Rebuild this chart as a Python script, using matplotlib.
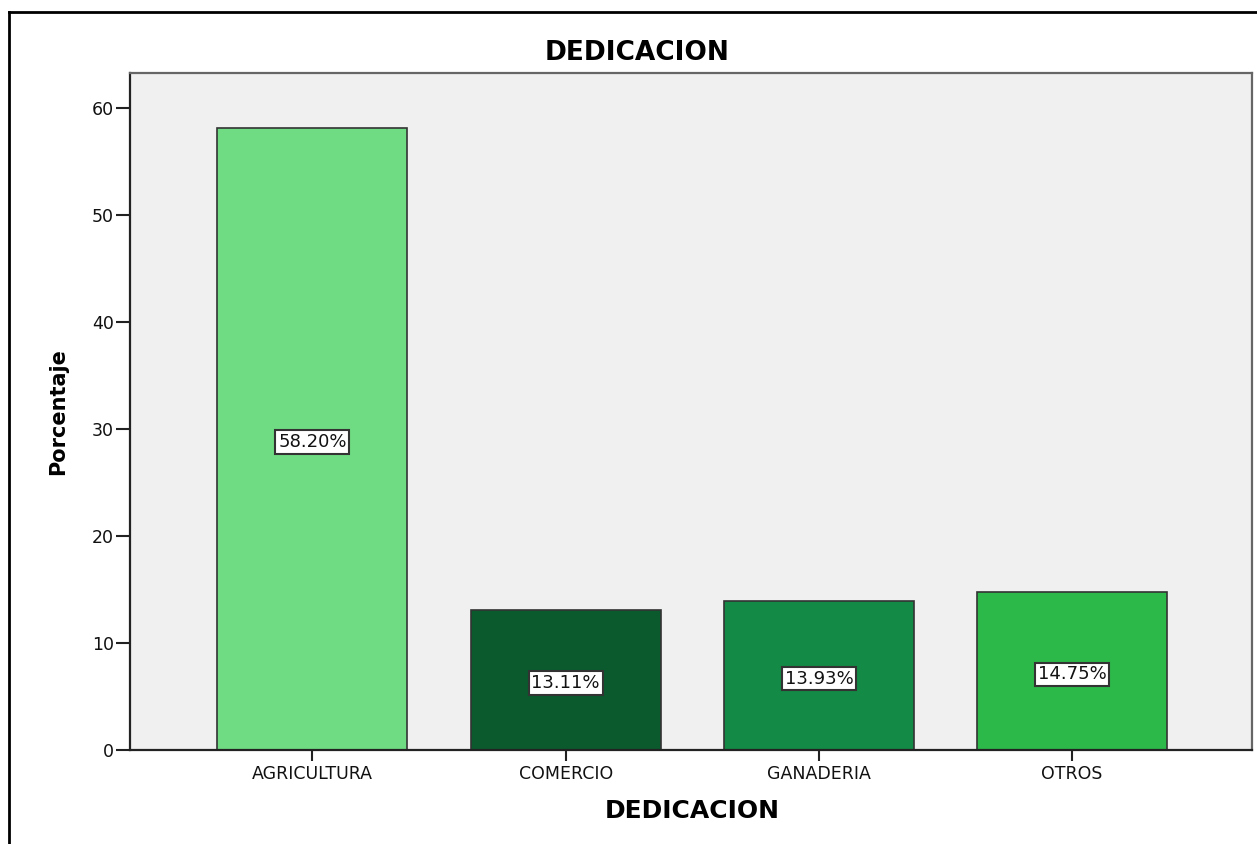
import numpy as np
import matplotlib
matplotlib.use('Agg')
import matplotlib.pyplot as plt
from matplotlib.lines import Line2D

plt.rcParams['font.family'] = ['DejaVu Sans']

# data
categories = ['AGRICULTURA', 'COMERCIO', 'GANADERIA', 'OTROS']
percentages = [58.20, 13.11, 13.93, 14.75]
bar_colors = ['#6FDC83', '#0B5A2E', '#138A45', '#2DB84A']

W, H = 1257, 844
fig = plt.figure(figsize=(W / 100., H / 100.), dpi=100)
ax = fig.add_axes([130. / W, 1 - 750. / H, (1252. - 130.) / W, (750. - 73.) / H])
ax.set_facecolor('#F0F0F0')

x = np.arange(len(categories))
ax.bar(x, percentages, width=0.75, color=bar_colors, edgecolor='#333333', linewidth=1.2, zorder=2)

for xi, v in zip(x, percentages):
    ax.text(xi, v / 2. - 0.3, '%.2f%%' % v, ha='center', va='center', fontsize=13, color='#111111',
            bbox=dict(boxstyle='square,pad=0.15', facecolor='white', edgecolor='#333333', linewidth=1.5),
            zorder=3)

ax.set_xlim(-0.72, 3.71)
ax.set_ylim(0, 63.3)
ax.set_xticks(x)
ax.set_xticklabels(categories, fontsize=12.5, color='#111111')
ax.set_yticks([0, 10, 20, 30, 40, 50, 60])
ax.tick_params(axis='y', length=10, width=1.5, color='#222222', labelsize=12.5, pad=1.5,
               labelcolor='#111111')
ax.tick_params(axis='x', length=8, width=1.5, color='#222222', pad=3)
for s in ax.spines.values():
    s.set_color('#666666')
    s.set_linewidth(1.6)
ax.spines['left'].set_color('#222222')
ax.spines['bottom'].set_color('#222222')

ax.set_ylabel('Porcentaje', fontsize=15, fontweight='bold')
ax.yaxis.set_label_coords((58. - 130.) / (1252. - 130.), (750. - 412.) / (750. - 73.))
ax.yaxis.label.set_va('center')
ax.set_xlabel('DEDICACION', fontsize=18, fontweight='bold')
ax.xaxis.set_label_coords((692. - 130.) / (1252. - 130.), -(811. - 750.) / (750. - 73.))
ax.xaxis.label.set_va('center')
fig.text(637. / W, 1 - 53. / H, 'DEDICACION', ha='center', va='center', fontsize=19, fontweight='bold')

# outer frame (top and left only)
fig.add_artist(Line2D([9. / W, 1], [1 - 12. / H, 1 - 12. / H], color='black', linewidth=2))
fig.add_artist(Line2D([9. / W, 9. / W], [0, 1 - 12. / H], color='black', linewidth=2))

fig.savefig('out.png', dpi=100)
